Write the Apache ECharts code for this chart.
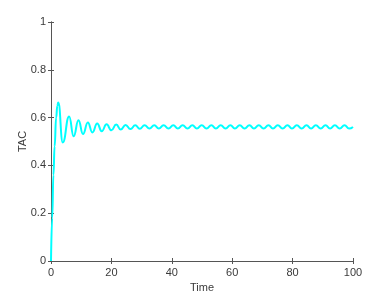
<!DOCTYPE html>
<html><head><meta charset="utf-8">
<script src="https://cdn.jsdelivr.net/npm/echarts@6/dist/echarts.min.js"></script>
<style>html,body{margin:0;padding:0;background:#fff}#c{width:390px;height:293px}</style>
</head><body><div id="c"></div>
<script>
var xTicks = [0, 20, 40, 60, 80, 100];
var yTicks = [0, 0.2, 0.4, 0.6, 0.8, 1];
var timeValues = [0, 0.4, 0.8, 1.2, 1.7, 2.1, 2.4, 3.9, 6.0, 7.5, 9.1, 10.6, 12.2, 13.7, 15.3, 16.8, 18.4, 20.0,
  21.6, 23.1, 24.7, 26.3, 27.9, 29.4, 31.0, 32.6, 34.2, 35.7, 37.3, 38.9, 40.5, 42.0, 43.6, 45.2,
  46.8, 48.3, 49.9, 51.5, 53.1, 54.6, 56.2, 57.8, 59.4, 60.9, 62.5, 64.1, 65.7, 67.2, 68.8, 70.4,
  72.0, 73.5, 75.1, 76.7, 78.3, 79.8, 81.4, 83.0, 84.6, 86.1, 87.7, 89.3, 90.9, 92.4, 94.0, 95.6,
  97.2, 98.7, 100];
var tacValues = [0, 0.18, 0.36, 0.48, 0.60, 0.65, 0.663, 0.496, 0.605, 0.522, 0.589, 0.531, 0.580, 0.538, 0.575, 0.543, 0.572, 0.547,
  0.571, 0.550, 0.569, 0.552, 0.568, 0.553, 0.568, 0.554, 0.568, 0.554, 0.568, 0.554, 0.568, 0.554, 0.568, 0.554,
  0.568, 0.554, 0.568, 0.554, 0.568, 0.554, 0.568, 0.554, 0.568, 0.554, 0.568, 0.554, 0.568, 0.554, 0.568, 0.554,
  0.568, 0.554, 0.568, 0.554, 0.568, 0.554, 0.568, 0.554, 0.568, 0.554, 0.568, 0.554, 0.568, 0.554, 0.568, 0.554,
  0.568, 0.554, 0.561];
var pts = timeValues.map(function (t, i) { return [t, tacValues[i]]; });
var axisCol = '#555';
var font = {color: '#3a3a3a', fontSize: 11, fontFamily: 'Liberation Sans, Arial, sans-serif'};
var chart = echarts.init(document.getElementById('c'), null, {renderer: 'canvas'});
function xa(pos, show) {
  return {type: 'value', position: pos, min: 0, max: 100, interval: 20,
    name: show ? 'Time' : '', nameLocation: 'middle', nameGap: 21, nameMoveOverlap: false,
    nameTextStyle: Object.assign({}, font),
    axisLine: {show: true, lineStyle: {color: axisCol, width: 1}},
    axisTick: {show: true, inside: true, length: 3, lineStyle: {color: axisCol}},
    axisLabel: Object.assign({show: show, margin: 6}, font),
    splitLine: {show: false}};
}
function ya(pos, show) {
  return {type: 'value', position: pos, min: 0, max: 1, interval: 0.2,
    name: show ? 'TAC' : '', nameLocation: 'middle', nameGap: 23, nameRotate: 90, nameMoveOverlap: false,
    nameTextStyle: Object.assign({}, font),
    axisLine: {show: true, lineStyle: {color: axisCol, width: 1}},
    axisTick: {show: true, inside: true, length: 3, lineStyle: {color: axisCol}},
    axisLabel: Object.assign({show: show, margin: 5, formatter: function (v) { return String(+v.toFixed(1)); }}, font),
    splitLine: {show: false}};
}
chart.setOption({
  animation: false,
  backgroundColor: '#fff',
  grid: {left: 51, top: 22, right: 37, bottom: 32, containLabel: false, outerBoundsMode: 'none'},
  xAxis: [xa('bottom', true), xa('top', false)],
  yAxis: [ya('left', true), ya('right', false)],
  series: [{type: 'line', data: pts, showSymbol: false, smooth: 0.5, smoothMonotone: 'x',
    lineStyle: {color: '#00ffff', width: 2}, itemStyle: {color: '#00ffff'}}]
});
</script></body></html>
